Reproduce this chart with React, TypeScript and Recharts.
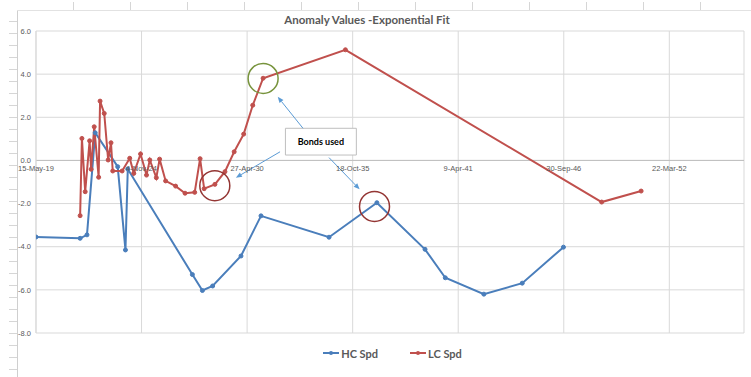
import React from "react";
import {
  LineChart,
  Line,
  XAxis,
  YAxis,
  CartesianGrid,
  ReferenceLine,
  ReferenceDot,
  ReferenceArea,
} from "recharts";

// HC Spd series
const HC_DATES = [
  "2019-05-15", "2021-08-28", "2022-01-05", "2022-06-10", "2023-08-10",
  "2024-01-04", "2024-02-17", "2027-06-25", "2028-01-01", "2028-07-13",
  "2030-01-01", "2031-01-15", "2034-07-27", "2037-01-19", "2039-07-20",
  "2040-08-07", "2042-08-08", "2044-08-04", "2046-09-24",
];
const HC_VALUES = [
  -3.55, -3.61, -3.45, 1.28, -0.29,
  -4.15, -0.4, -5.29, -6.03, -5.82,
  -4.43, -2.57, -3.56, -1.96, -4.12,
  -5.44, -6.2, -5.69, -4.02,
];

// LC Spd series
const LC_DATES = [
  "2021-08-28", "2021-10-01", "2021-12-02", "2022-02-24", "2022-03-24",
  "2022-05-22", "2022-08-14", "2022-09-10", "2022-11-28", "2023-02-10",
  "2023-04-05", "2023-05-08", "2023-11-02", "2024-03-25", "2024-06-10",
  "2024-10-16", "2025-02-06", "2025-04-09", "2025-08-11", "2025-10-12",
  "2026-02-03", "2026-08-11", "2027-02-06", "2027-08-08", "2027-11-18",
  "2028-02-03", "2028-08-25", "2029-03-03", "2029-08-25", "2030-02-21",
  "2030-08-12", "2031-02-24", "2035-06-03", "2048-09-17", "2050-10-05",
];
const LC_VALUES = [
  -2.56, 1.02, -1.45, 0.91, -0.41,
  1.56, -0.78, 2.75, 2.18, 0.02,
  0.82, -0.49, -0.49, 0.1, -0.6,
  0.3, -0.68, 0.02, -0.8, 0.06,
  -0.95, -1.19, -1.52, -1.48, 0.08,
  -1.31, -1.11, -0.52, 0.4, 1.22,
  2.56, 3.81, 5.13, -1.93, -1.42,
];

const X_TICK_DATES = [
  "2019-05-15", "2024-11-04", "2030-04-27", "2035-10-18",
  "2041-04-09", "2046-09-30", "2052-03-22",
];
const X_END_DATE = "2056-02-05";
const Y_TICKS = [-8, -6, -4, -2, 0, 2, 4, 6];

// annotations
const CIRCLES = [
  { date: "2031-02-24", value: 3.8, color: "#77933c" },
  { date: "2028-08-23", value: -1.17, color: "#943634" },
  { date: "2036-12-05", value: -2.13, color: "#943634" },
];
const ARROWS = [
  { from: ["2033-03-21", 1.49], to: ["2031-11-28", 2.95] },
  { from: ["2032-01-11", 0.4], to: ["2029-09-27", -0.8] },
  { from: ["2034-07-27", 0.13], to: ["2036-02-27", -1.34] },
];
const NOTE_BOX = { x1: "2032-04-22", x2: "2035-12-27", y1: 0.25, y2: 1.49 };

const BLUE = "#4a7ebb";
const RED = "#c0504d";
const GREY = "#595959";
const MONTHS = ["Jan", "Feb", "Mar", "Apr", "May", "Jun", "Jul", "Aug", "Sep", "Oct", "Nov", "Dec"];

const W = 751;
const H = 377;
const X_AXIS_H = 20;
const MARGIN = { top: 31, right: 7, bottom: 44 - X_AXIS_H, left: 0 };
const Y_MIN = -8;
const Y_MAX = 6;
const PLOT_H = H - 31 - 44;

const toDay = (s: string) => {
  const [y, m, d] = s.split("-").map(Number);
  return Date.UTC(y, m - 1, d) / 86400000;
};

const fmtDay = (t: number) => {
  const d = new Date(t * 86400000);
  return `${d.getUTCDate()}-${MONTHS[d.getUTCMonth()]}-${String(d.getUTCFullYear() % 100).padStart(2, "0")}`;
};

const hcData = HC_DATES.map((d, i) => ({ t: toDay(d), v: HC_VALUES[i] }));
const lcData = LC_DATES.map((d, i) => ({ t: toDay(d), v: LC_VALUES[i] }));
const xTicks = X_TICK_DATES.map(toDay);

// x labels sit under the zero line, like Excel's crossing axis
const zeroShift = (PLOT_H * (0 - Y_MIN)) / (Y_MAX - Y_MIN);

const DateTick = (props: any) => {
  const { x, y, payload } = props;
  return (
    <text
      x={x}
      y={y - zeroShift + 11}
      textAnchor="middle"
      fontSize={7.5}
      fontFamily="Liberation Sans, Arial, sans-serif"
      fill={GREY}
    >
      {fmtDay(payload.value)}
    </text>
  );
};

const ArrowShape = (props: any) => {
  const { x1, y1, x2, y2 } = props;
  const a = Math.atan2(y2 - y1, x2 - x1);
  const len = 6;
  const half = 2.5;
  const bx = x2 - len * Math.cos(a);
  const by = y2 - len * Math.sin(a);
  const pts = [
    `${x2},${y2}`,
    `${bx + half * Math.sin(a)},${by - half * Math.cos(a)}`,
    `${bx - half * Math.sin(a)},${by + half * Math.cos(a)}`,
  ].join(" ");
  return (
    <g>
      <line x1={x1} y1={y1} x2={bx} y2={by} stroke="#5b9bd5" strokeWidth={1} />
      <polygon points={pts} fill="#5b9bd5" />
    </g>
  );
};

const LegendItem = ({ color, label }: { color: string; label: string }) => (
  <span style={{ display: "inline-flex", alignItems: "center", marginRight: 32 }}>
    <svg width={16} height={6} style={{ marginRight: 2 }}>
      <line x1={0} y1={3} x2={16} y2={3} stroke={color} strokeWidth={2} />
      <circle cx={8} cy={3} r={2} fill={color} />
    </svg>
    {label}
  </span>
);

export default function App() {
  return (
    <div style={{ position: "absolute", left: 0, top: 0, width: W, height: H, background: "#fff" }}>
      {/* sheet rulers */}
      <div
        style={{
          position: "absolute",
          left: 9,
          top: 10,
          width: 8,
          height: H - 10,
          borderRight: "1px solid #cfcfcf",
          backgroundImage: "repeating-linear-gradient(to bottom, transparent 0, transparent 11px, #d6d6d6 11px, #d6d6d6 12px)",
        }}
      />
      <div
        style={{
          position: "absolute",
          left: 17,
          top: 2,
          width: W - 17,
          height: 8,
          borderBottom: "1px solid #e2e2e2",
          backgroundImage: "repeating-linear-gradient(to right, transparent 0, transparent 56px, #d6d6d6 56px, #d6d6d6 57px)",
        }}
      />
      <div
        style={{
          position: "absolute",
          left: 17,
          width: 700,
          top: 13,
          textAlign: "center",
          fontFamily: "Lato, sans-serif",
          fontWeight: 700,
          fontSize: 11.5,
          color: GREY,
        }}
      >
        Anomaly Values -Exponential Fit
      </div>
      <LineChart width={W} height={H} margin={MARGIN}>
        <CartesianGrid stroke="#d9d9d9" />
        <XAxis
          type="number"
          dataKey="t"
          domain={[toDay(X_TICK_DATES[0]), toDay(X_END_DATE)]}
          ticks={xTicks}
          interval={0}
          height={X_AXIS_H}
          axisLine={false}
          tickLine={false}
          tickSize={0}
          tickMargin={0}
          tick={<DateTick />}
          allowDataOverflow
        />
        <YAxis
          type="number"
          domain={[Y_MIN, Y_MAX]}
          ticks={Y_TICKS}
          width={36}
          tickFormatter={(v: number) => v.toFixed(1)}
          tick={{ fontSize: 7.5, fill: GREY, fontFamily: "Liberation Sans, Arial, sans-serif" }}
          axisLine={{ stroke: "#d9d9d9" }}
          tickLine={false}
          tickSize={0}
          tickMargin={5}
        />
        <ReferenceLine y={0} stroke="#bfbfbf" />
        <ReferenceArea
          x1={toDay(NOTE_BOX.x1)}
          x2={toDay(NOTE_BOX.x2)}
          y1={NOTE_BOX.y1}
          y2={NOTE_BOX.y2}
          fill="#ffffff"
          fillOpacity={1}
          stroke="#bfbfbf"
          label={{
            value: "Bonds used",
            position: "center",
            fontSize: 9,
            fontWeight: 700,
            fill: "#000",
            fontFamily: "Lato, sans-serif",
          }}
        />
        {ARROWS.map((a, i) => (
          <ReferenceLine
            key={`arrow-${i}`}
            segment={[
              { x: toDay(a.from[0] as string), y: a.from[1] as number },
              { x: toDay(a.to[0] as string), y: a.to[1] as number },
            ]}
            shape={ArrowShape}
          />
        ))}
        <Line
          data={hcData}
          dataKey="v"
          name="HC Spd"
          type="linear"
          stroke={BLUE}
          strokeWidth={2}
          dot={{ r: 2, fill: BLUE, stroke: BLUE, strokeWidth: 1 }}
          isAnimationActive={false}
        />
        <Line
          data={lcData}
          dataKey="v"
          name="LC Spd"
          type="linear"
          stroke={RED}
          strokeWidth={2}
          dot={{ r: 2, fill: RED, stroke: RED, strokeWidth: 1 }}
          isAnimationActive={false}
        />
        {CIRCLES.map((c, i) => (
          <ReferenceDot
            key={`circle-${i}`}
            x={toDay(c.date)}
            y={c.value}
            r={15}
            fill="none"
            stroke={c.color}
            strokeWidth={1.5}
          />
        ))}
      </LineChart>
      <div
        style={{
          position: "absolute",
          left: 0,
          width: W,
          top: 345,
          paddingLeft: 66,
          boxSizing: "border-box",
          textAlign: "center",
          fontFamily: "Lato, sans-serif",
          fontWeight: 700,
          fontSize: 11,
          color: GREY,
        }}
      >
        <LegendItem color={BLUE} label="HC Spd" />
        <LegendItem color={RED} label="LC Spd" />
      </div>
    </div>
  );
}
